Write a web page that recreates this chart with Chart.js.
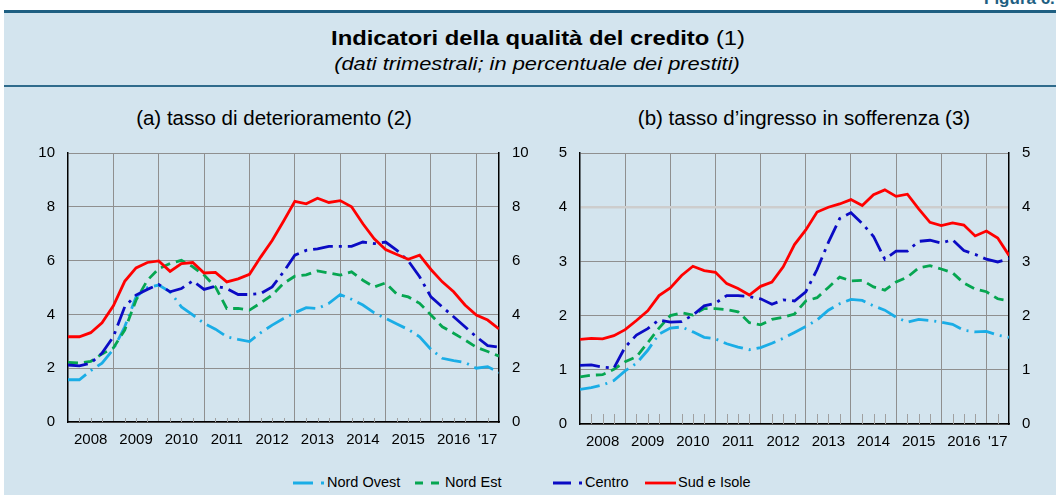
<!DOCTYPE html>
<html lang="it">
<head>
<meta charset="utf-8">
<title>Indicatori della qualità del credito</title>
<script src="https://cdn.jsdelivr.net/npm/chart.js@4.4.1/dist/chart.umd.min.js"></script>
<style>
  body { margin: 0; width: 1056px; height: 495px; background: #fff; overflow: hidden;
         font-family: "Liberation Sans", Arial, sans-serif; color: #000; }
  #panel { position: absolute; left: 4px; top: 10px; width: 1052px; height: 485px;
           background: #d3e4ee; border-top: 3px solid #1e5f82; }
  #sep { position: absolute; left: 4px; top: 85px; width: 1052px; height: 2px; background: #2f6b8c; }
  #fig { position: absolute; left: 984px; top: -11px; font-size: 17px; font-weight: bold; color: #1e5f82; }
  .c { position: absolute; white-space: nowrap; transform-origin: center; }
  #title { left: 538px; top: 27px; font-size: 20px; font-weight: bold; transform: translateX(-50%) scaleX(1.19); }
  #title span { font-weight: normal; }
  #sub { left: 537px; top: 53px; font-size: 19px; font-style: italic; transform: translateX(-50%) scaleX(1.15); }
  .pt { top: 106px; font-size: 20.5px; transform: translateX(-50%); }
  canvas { position: absolute; top: 131px; }
  #legend { position: absolute; top: 474px; left: 0; font-size: 14.5px; }
  #legend div { position: absolute; white-space: nowrap; }
  #legend svg { position: absolute; top: 0; }
</style>
</head>
<body>
<div id="panel"></div>
<div id="sep"></div>
<div id="fig">Figura 6.</div>
<div class="c" id="title">Indicatori della qualità del credito <span>(1)</span></div>
<div class="c" id="sub">(dati trimestrali; in percentuale dei prestiti)</div>
<div class="c pt" style="left:274px">(a) tasso di deterioramento (2)</div>
<div class="c pt" style="left:804px">(b) tasso d’ingresso in sofferenza (3)</div>
<canvas id="chartA" width="540" height="329" style="left:0"></canvas>
<canvas id="chartB" width="516" height="329" style="left:540px"></canvas>
<div id="legend"></div>

<script>
// quarterly observations, first point = end of 2007 Q4, last = end of 2017 Q2
const yearLabels = ["2008", "2009", "2010", "2011", "2012", "2013", "2014", "2015", "2016", "'17"];
const seriesNames = ["Nord Ovest", "Nord Est", "Centro", "Sud e Isole"];

// (a) tasso di deterioramento
const nordOvestA = [1.57, 1.57, 1.91, 2.19, 2.7, 3.54, 4.65, 5.0, 5.09, 4.84, 4.28, 3.98, 3.67, 3.45, 3.17, 3.07, 2.99, 3.32, 3.6, 3.85, 4.06, 4.25, 4.22, 4.41, 4.74, 4.56, 4.35, 4.06, 3.85, 3.64, 3.44, 3.17, 2.7, 2.37, 2.28, 2.21, 2.0, 2.06, 1.84];
const nordEstA = [2.22, 2.19, 2.25, 2.53, 2.75, 3.42, 4.53, 5.27, 5.7, 5.89, 6.01, 5.77, 5.46, 5.02, 4.22, 4.22, 4.16, 4.43, 4.72, 5.15, 5.42, 5.47, 5.62, 5.54, 5.46, 5.58, 5.27, 5.02, 5.17, 4.75, 4.65, 4.41, 3.98, 3.54, 3.3, 3.05, 2.78, 2.62, 2.45];
const centroA = [2.12, 2.09, 2.19, 2.56, 3.17, 4.28, 4.72, 4.93, 5.11, 4.84, 4.96, 5.25, 4.93, 5.05, 4.96, 4.74, 4.74, 4.78, 5.02, 5.58, 6.2, 6.38, 6.44, 6.53, 6.53, 6.53, 6.69, 6.63, 6.69, 6.38, 5.99, 5.4, 4.65, 4.28, 3.91, 3.54, 3.17, 2.84, 2.78];
const sudA = [3.17, 3.17, 3.32, 3.69, 4.32, 5.23, 5.73, 5.93, 5.99, 5.6, 5.89, 5.93, 5.54, 5.56, 5.21, 5.32, 5.49, 6.14, 6.75, 7.46, 8.2, 8.11, 8.32, 8.16, 8.23, 8.0, 7.37, 6.81, 6.41, 6.23, 6.05, 6.2, 5.67, 5.21, 4.84, 4.35, 3.98, 3.79, 3.46];

// (b) tasso d'ingresso in sofferenza
const nordOvestB = [0.64, 0.67, 0.72, 0.8, 0.98, 1.12, 1.36, 1.66, 1.77, 1.79, 1.7, 1.6, 1.57, 1.48, 1.42, 1.37, 1.41, 1.49, 1.58, 1.69, 1.8, 1.92, 2.1, 2.22, 2.3, 2.28, 2.18, 2.1, 1.97, 1.88, 1.93, 1.91, 1.88, 1.84, 1.73, 1.7, 1.71, 1.64, 1.6];
const nordEstB = [0.87, 0.9, 0.91, 1.01, 1.15, 1.24, 1.5, 1.77, 2.0, 2.05, 2.01, 2.13, 2.13, 2.11, 2.07, 1.87, 1.83, 1.93, 1.97, 2.03, 2.27, 2.33, 2.52, 2.71, 2.64, 2.65, 2.53, 2.47, 2.62, 2.71, 2.88, 2.92, 2.86, 2.79, 2.6, 2.49, 2.44, 2.31, 2.27];
const centroB = [1.08, 1.09, 1.05, 1.03, 1.42, 1.64, 1.76, 1.92, 1.88, 1.89, 2.01, 2.18, 2.23, 2.37, 2.37, 2.35, 2.31, 2.21, 2.29, 2.27, 2.44, 2.85, 3.35, 3.79, 3.9, 3.7, 3.46, 3.04, 3.19, 3.19, 3.37, 3.39, 3.34, 3.4, 3.2, 3.13, 3.04, 2.99, 3.05];
const sudB = [1.56, 1.58, 1.57, 1.63, 1.74, 1.91, 2.09, 2.37, 2.51, 2.74, 2.91, 2.83, 2.8, 2.59, 2.5, 2.38, 2.54, 2.62, 2.9, 3.31, 3.58, 3.91, 4.0, 4.06, 4.14, 4.03, 4.23, 4.32, 4.2, 4.24, 3.97, 3.72, 3.66, 3.71, 3.67, 3.47, 3.56, 3.43, 3.11];

const styles = [
  { color: "#1aade6", dash: [20, 6, 2, 6] },
  { color: "#06a651", dash: [10, 6] },
  { color: "#0b0bc4", dash: [20, 6, 3, 6] },
  { color: "#ff0000", dash: [] }
];

const nQuarters = sudA.length - 1;          // 38 quarters on the axis
const font = { family: "'Liberation Sans', Arial, sans-serif", size: 15 };
const gridColor = "#8f8f8f";

// year label sits in the middle of its year; the last one covers only two quarters
function labelFor(q) {
  const k = Math.floor(q / 4);
  const mid = Math.min(k * 4 + 2, (k * 4 + nQuarters) / 2);
  return q === mid ? yearLabels[k] : "";
}

// short quarterly ticks rising from the bottom axis
const quarterTicks = {
  id: "quarterTicks",
  beforeDatasetsDraw(chart, args, opts) {
    const { ctx, scales: { x }, chartArea } = chart;
    ctx.save();
    ctx.strokeStyle = "#a0a0a0";
    ctx.lineWidth = 1;
    for (let q = 1; q < nQuarters; q++) {
      if (q % 4 === 0) continue;
      const px = Math.round(x.getPixelForValue(q)) + 0.5;
      ctx.beginPath();
      ctx.moveTo(px, chartArea.bottom);
      ctx.lineTo(px, chartArea.bottom - opts.len);
      ctx.stroke();
    }
    ctx.restore();
  }
};

function makeChart(id, series, yMax, widths, xHeight, tickLen, lightGrid) {
  const datasets = series.map((values, i) => ({
    label: seriesNames[i],
    data: values.map((v, q) => ({ x: q, y: v })),
    borderColor: styles[i].color,
    borderDash: styles[i].dash,
    borderWidth: 2.8,
    pointRadius: 0,
    fill: false,
    tension: 0,
    order: 3 - i
  }));
  const yTicks = { color: "#000", font, padding: 13, stepSize: yMax / 5 };
  return new Chart(document.getElementById(id), {
    type: "line",
    data: { datasets },
    options: {
      responsive: false,
      animation: false,
      layout: { padding: { top: 3 } },
      plugins: { legend: { display: false }, tooltip: { enabled: false }, quarterTicks: { len: tickLen } },
      scales: {
        x: {
          type: "linear", min: 0, max: nQuarters,
          afterBuildTicks: s => { s.ticks = []; for (let q = 0; q <= nQuarters; q++) s.ticks.push({ value: q }); },
          afterFit: s => { s.height = xHeight; },
          ticks: { autoSkip: false, maxRotation: 0, color: "#000", font, padding: 9, callback: v => labelFor(v) },
          grid: {
            drawTicks: false,
            color: c => (c.tick.value % 4 === 0 && c.tick.value > 0 && c.tick.value < nQuarters) ? gridColor : "rgba(0,0,0,0)"
          },
          border: { color: "#000", width: 1.5 }
        },
        y: {
          min: 0, max: yMax,
          afterFit: s => { s.width = widths[0]; },
          ticks: yTicks,
          grid: {
            drawTicks: false,
            color: c => (lightGrid && c.tick.value === lightGrid) ? "#cdcdcd" : gridColor,
            lineWidth: c => (lightGrid && c.tick.value === lightGrid) ? 2.5 : 1
          },
          border: { color: "#000", width: 1.5 }
        },
        y2: {
          position: "right", min: 0, max: yMax,
          afterFit: s => { s.width = widths[1]; },
          ticks: yTicks,
          grid: { drawOnChartArea: false, drawTicks: false },
          border: { color: "#000", width: 1.5 }
        }
      }
    },
    plugins: [quarterTicks]
  });
}

makeChart("chartA", [nordOvestA, nordEstA, centroA, sudA], 10, [68, 41], 38, 4, null);
makeChart("chartB", [nordOvestB, nordEstB, centroB, sudB], 5, [40, 47], 36, 10, 4);

// shared legend under the two panels
const legendPos = [
  { x: 293, w: 32, text: 327 },
  { x: 415, w: 24, text: 445 },
  { x: 553, w: 30, text: 585 },
  { x: 645, w: 31, text: 678 }
];
const legend = document.getElementById("legend");
seriesNames.forEach((name, i) => {
  const p = legendPos[i];
  const svg = document.createElementNS("http://www.w3.org/2000/svg", "svg");
  svg.setAttribute("width", p.w);
  svg.setAttribute("height", 18);
  svg.style.left = p.x + "px";
  const ln = document.createElementNS("http://www.w3.org/2000/svg", "line");
  ln.setAttribute("x1", 0); ln.setAttribute("x2", p.w);
  ln.setAttribute("y1", 9); ln.setAttribute("y2", 9);
  ln.setAttribute("stroke", styles[i].color);
  ln.setAttribute("stroke-width", 2.8);
  if (i === 1) ln.setAttribute("stroke-dasharray", "8 8");
  if (i === 0 || i === 2) ln.setAttribute("stroke-dasharray", (p.w - 12) + " 8 3 8");
  svg.appendChild(ln);
  legend.appendChild(svg);
  const t = document.createElement("div");
  t.textContent = name;
  t.style.left = p.text + "px";
  t.style.top = "0px";
  legend.appendChild(t);
});
</script>
</body>
</html>
